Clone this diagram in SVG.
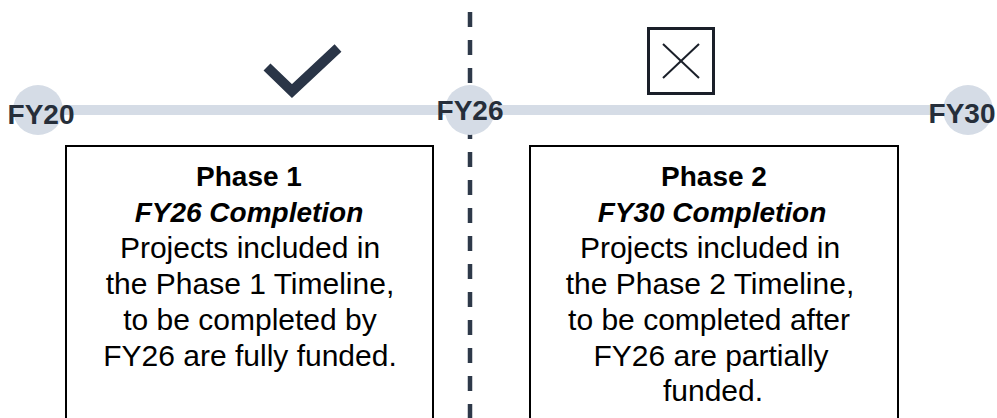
<svg xmlns="http://www.w3.org/2000/svg" width="997" height="418" viewBox="0 0 997 418">
<style>
.bg{fill:#ffffff}
.mk{fill:#d5dce6}
.fy{font-family:"Liberation Sans",Arial,sans-serif;font-weight:bold;font-size:28px;fill:#262e3a;text-anchor:middle}
.box{fill:#ffffff;stroke:#000000;stroke-width:2}
.ttl{font-family:"Liberation Sans",Arial,sans-serif;font-weight:bold;font-size:28px;fill:#000000;text-anchor:middle}
.ttli{font-style:italic}
.body{font-family:"Liberation Sans",Arial,sans-serif;font-size:30px;fill:#000000;text-anchor:middle}
.tl{stroke:#d5dce6;stroke-width:10;fill:none}
.div{stroke:#2e3949;stroke-width:4.5;stroke-dasharray:15 13;fill:none}
</style>
<rect class="bg" x="0" y="0" width="997" height="418"/>
<g id="connectors">
  <line class="tl" x1="38" y1="110" x2="968" y2="110"/>
  <line class="div" x1="470" y1="12" x2="470" y2="418"/>
</g>
<g id="fy20">
  <circle class="mk" cx="38" cy="110" r="25"/>
  <text class="fy" x="41" y="124">FY20</text>
</g>
<g id="fy26">
  <circle class="mk" cx="470" cy="110" r="25"/>
  <text class="fy" x="470" y="120">FY26</text>
</g>
<g id="fy30">
  <circle class="mk" cx="968" cy="110" r="25"/>
  <text class="fy" x="962" y="123">FY30</text>
</g>
<g id="check">
  <polyline points="267,67 292,91 338,48" fill="none" stroke="#2a3547" stroke-width="10" stroke-linejoin="miter"/>
</g>
<g id="cross">
  <rect x="648.5" y="28.5" width="65" height="65" fill="none" stroke="#1a1f29" stroke-width="3"/>
  <line x1="663" y1="44" x2="699" y2="78" stroke="#1a1f29" stroke-width="2"/>
  <line x1="699" y1="44" x2="663" y2="78" stroke="#1a1f29" stroke-width="2"/>
</g>
<g id="phase1">
  <rect class="box" x="66" y="146" width="367" height="290"/>
  <text class="ttl" x="249" y="186">Phase 1</text>
  <text class="ttl ttli" x="249" y="222">FY26 Completion</text>
  <text class="body" x="250" y="258">Projects included in</text>
  <text class="body" x="250" y="294">the Phase 1 Timeline,</text>
  <text class="body" x="250" y="330">to be completed by</text>
  <text class="body" x="250" y="366">FY26 are fully funded.</text>
</g>
<g id="phase2">
  <rect class="box" x="530" y="146" width="368" height="290"/>
  <text class="ttl" x="714" y="186">Phase 2</text>
  <text class="ttl ttli" x="712" y="222">FY30 Completion</text>
  <text class="body" x="710" y="258">Projects included in</text>
  <text class="body" x="710" y="294">the Phase 2 Timeline,</text>
  <text class="body" x="709" y="330">to be completed after</text>
  <text class="body" x="711" y="366">FY26 are partially</text>
  <text class="body" x="713" y="401">funded.</text>
</g>
</svg>
